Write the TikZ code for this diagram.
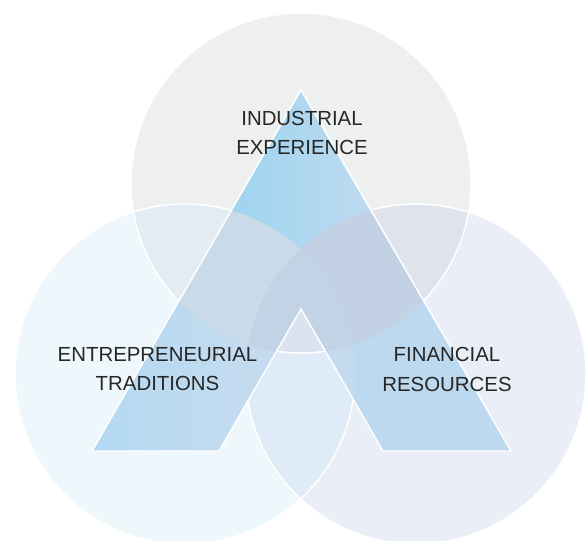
\documentclass[tikz,border=0pt]{standalone}
\usepackage{fontspec}
\setmainfont{Liberation Sans}

% ring fills and their overlaps
\definecolor{ringtop}{HTML}{EEF0EF}
\definecolor{ringleft}{HTML}{EEF7FC}
\definecolor{ringright}{HTML}{E9EEF7}
\definecolor{ringTL}{HTML}{E3ECF2}
\definecolor{ringTR}{HTML}{DFE3EC}
\definecolor{ringLR}{HTML}{DFEBF6}
\definecolor{ringTLR}{HTML}{D9E4EE}
% the A, piece by piece
\definecolor{peakA}{HTML}{8DCFF1}
\definecolor{peakB}{HTML}{D0DFEF}
\definecolor{legA}{HTML}{AED8F3}
\definecolor{legB}{HTML}{CCDDEE}
\definecolor{legR}{HTML}{BCD9F0}
\definecolor{legLR}{HTML}{C4DAEF}
\definecolor{peakTL}{HTML}{C9DBE8}
\definecolor{peakTR}{HTML}{C2D1E3}
\definecolor{peakTLR}{HTML}{C3D3E6}
\definecolor{inktext}{HTML}{262626}

\tikzset{
  ring/.style={draw=white, line width=1.1pt},
  ringtext/.style={align=center, text=inktext, inner sep=0pt,
    font=\fontsize{15.3}{22}\selectfont}
}

\begin{document}
\begin{tikzpicture}[x=0.75pt,y=-0.75pt]
 \fill[white] (0,0) rectangle (588,540);
 \useasboundingbox (0,0) rectangle (588,540);

 \coordinate (ctop) at (301,183);
 \coordinate (cleft) at (185,374);
 \coordinate (cright) at (416,374);
 \coordinate (apex) at (301,90);
 \coordinate (outerL) at (92,451);
 \coordinate (innerL) at (219,451);
 \coordinate (notch) at (301,309);
 \coordinate (innerR) at (383,451);
 \coordinate (outerR) at (511,451);

 \def\discT{(ctop) circle (170)}
 \def\discL{(cleft) circle (170)}
 \def\discR{(cright) circle (170)}
 \def\Apath{(apex) -- (outerR) -- (innerR) -- (notch) -- (innerL) -- (outerL) -- cycle}

 % three rings
 \fill[ringtop] \discT;
 \fill[ringleft] \discL;
 \fill[ringright] \discR;
 \begin{scope}
  \clip \discL;
  \fill[ringLR] \discR;
 \end{scope}
 \begin{scope}
  \clip \discT;
  \fill[ringTL] \discL;
  \fill[ringTR] \discR;
 \end{scope}
 \begin{scope}
  \clip \discT;
  \clip \discL;
  \fill[ringTLR] \discR;
 \end{scope}
 \draw[ring] \discT;
 \draw[ring] \discL;
 \draw[ring] \discR;

 % the A
 \begin{scope}
  \clip \Apath;
  \begin{scope}
   \clip \discL;
   \shade[left color=legA, right color=legB] (45,80) rectangle (327,460);
  \end{scope}
  \begin{scope}
   \clip \discR;
   \fill[legR] \Apath;
  \end{scope}
  \begin{scope}
   \clip \discL;
   \clip \discR;
   \fill[legLR] \Apath;
  \end{scope}
  \begin{scope}
   \clip \discT;
   \shade[left color=peakA, right color=peakB] (148,80) rectangle (455,460);
   \fill[peakTL] \discL;
   \fill[peakTR] \discR;
   \clip \discL;
   \fill[peakTLR] \discR;
  \end{scope}
 \end{scope}
 \draw[white, line width=1.1pt] \Apath;

 \node[ringtext] (industry) at (302,133) {INDUSTRIAL\\EXPERIENCE};
 \node[ringtext] (tradition) at (157.5,369) {ENTREPRENEURIAL\\TRADITIONS};
 \node[ringtext] (finance) at (447,369.5) {FINANCIAL\\RESOURCES};
\end{tikzpicture}
\end{document}
